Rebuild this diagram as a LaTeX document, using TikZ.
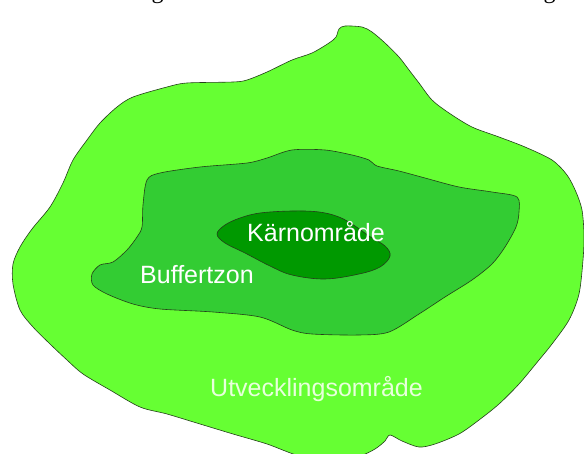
\documentclass[tikz,border=0pt]{standalone}
\usepackage{fontspec}
\setmainfont{Liberation Sans}
\newfontfamily\pageserif{Liberation Serif}
\definecolor{zoneouter}{HTML}{66FF33}
\definecolor{zonebuffer}{HTML}{33CC33}
\definecolor{zonecore}{HTML}{009900}
\definecolor{zoneedge}{HTML}{243F1A}
\definecolor{labelpale}{HTML}{E8FFDC}

\begin{document}
\begin{tikzpicture}[x=1pt,y=-1pt,
  zone/.style={draw=zoneedge,line width=0.6pt},
  zonelabel/.style={font=\fontsize{25}{25}\selectfont,anchor=base west,inner sep=0pt},
  cutglyph/.style={font=\pageserif\fontsize{24}{24}\selectfont,anchor=base,inner sep=0pt}]
  \useasboundingbox (0,0) rectangle (584,454);
  \fill[white] (0,0) rectangle (584,454);
  % outer zone
  \filldraw[zone,fill=zoneouter] plot[smooth cycle,tension=0.5] coordinates {
    (345,26) (362,27) (372,32) (385,43) (399,57) (409,70) (419,83) (432,100)
    (449,113) (472,127) (499,137) (525,147) (552,160) (567,175) (576,192)
    (582,210) (584,235) (583,260) (579,294) (569,320) (552,344) (539,360)
    (519,384) (499,404) (479,420) (459,434) (435,444) (419,447) (402,441)
    (390,435) (385,441) (375,449) (359,456) (330,458) (300,456) (267,444)
    (233,434) (200,424) (167,414) (140,407) (110,390) (83,374) (67,360)
    (50,344) (33,327) (20,310) (13,284) (13,264) (20,247) (32,229) (50,207)
    (63,183) (73,160) (87,140) (100,123) (117,107) (133,97) (167,87) (187,83)
    (233,82) (247,80) (267,72) (292,60) (312,53) (329,43) (336,37) (339,29)};
  % buffer zone
  \filldraw[zone,fill=zonebuffer] plot[smooth cycle,tension=0.5] coordinates {
    (147,180) (160,173) (200,167) (247,163) (267,158) (292,150) (325,150)
    (352,155) (369,160) (377,166) (399,171) (425,178) (459,187) (492,192)
    (517,197) (519,212) (516,227) (505,247) (492,264) (472,280) (445,297)
    (419,314) (389,332) (359,335) (312,334) (292,330) (260,317) (213,312)
    (160,309) (133,304) (107,294) (93,285) (92,274) (100,265) (113,262)
    (127,250) (137,237) (142,227) (143,205)};
  % core zone
  \filldraw[zone,fill=zonecore] plot[smooth cycle,tension=0.6] coordinates {
    (217,234) (225,225) (240,218) (260,213) (292,211) (319,212) (339,217)
    (355,226) (369,236) (385,246) (390,256) (380,267) (359,274) (325,279)
    (292,275) (270,266) (245,253) (225,243)};
  % labels
  \node[zonelabel,text=white] (core) at (247,242) {Kärnområde};
  \node[zonelabel,text=white] (buffer) at (140,284) {Buffertzon};
  \node[zonelabel,text=labelpale] (outer) at (210,397) {Utvecklingsområde};
  % text cut at the top edge
  \node[cutglyph] (gleft) at (157.5,-1.5) {g};
  \node[cutglyph] (gright) at (549.5,-1.5) {g};
\end{tikzpicture}
\end{document}
